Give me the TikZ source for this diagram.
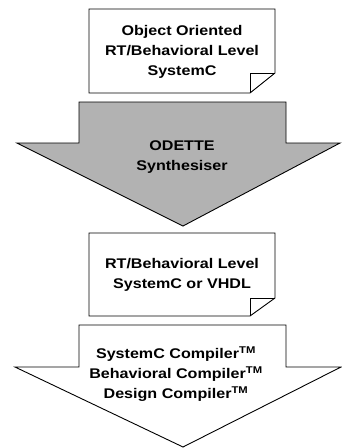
\documentclass[tikz,border=0pt]{standalone}
\usepackage{fontspec}
\setmainfont{Liberation Sans}[FakeStretch=1.15]
\definecolor{synthgray}{RGB}{178,178,178}
\begin{document}
\begin{tikzpicture}[x=1pt,y=-1pt,line width=0.9pt,line join=miter,
  lbl/.style={font=\bfseries\fontsize{14}{20}\selectfont,align=center,inner sep=0pt}]
   \useasboundingbox (0,0) rectangle (341,448);
   % source document
   \draw[fill=white] (89,9) -- (275,9) -- (275,73) -- (250,93) -- (89,93) -- cycle;
   \draw (250,93) -- (250,73) -- (275,73);
   \node[lbl] (src) at (182,52) {Object Oriented\\RT/Behavioral Level\\SystemC};

   % ODETTE arrow
   \draw[fill=synthgray]
   (79,102) -- (286,102) -- (286,143) -- (340,143) --
   (183,226) -- (17,143) -- (79,143) -- cycle;
   \node[lbl] (odette) at (182,157) {ODETTE\\Synthesiser};

   % generated document
   \draw[fill=white] (89,233) -- (275,233) -- (275,298) -- (250,316) -- (89,316) -- cycle;
   \draw (250,316) -- (250,298) -- (275,298);
   \node[lbl] (rtl) at (182,275) {RT/Behavioral Level\\SystemC or VHDL};

   % commercial tools arrow
   \draw[fill=white]
   (79,325) -- (286,325) -- (286,367) -- (341,367) --
   (183,447) -- (15,367) -- (79,367) -- cycle;
   \node[lbl] (tools) at (176,374)
   {SystemC Compiler\textsuperscript{TM}\\Behavioral Compiler\textsuperscript{TM}\\Design Compiler\textsuperscript{TM}};
 \end{tikzpicture}
\end{document}
